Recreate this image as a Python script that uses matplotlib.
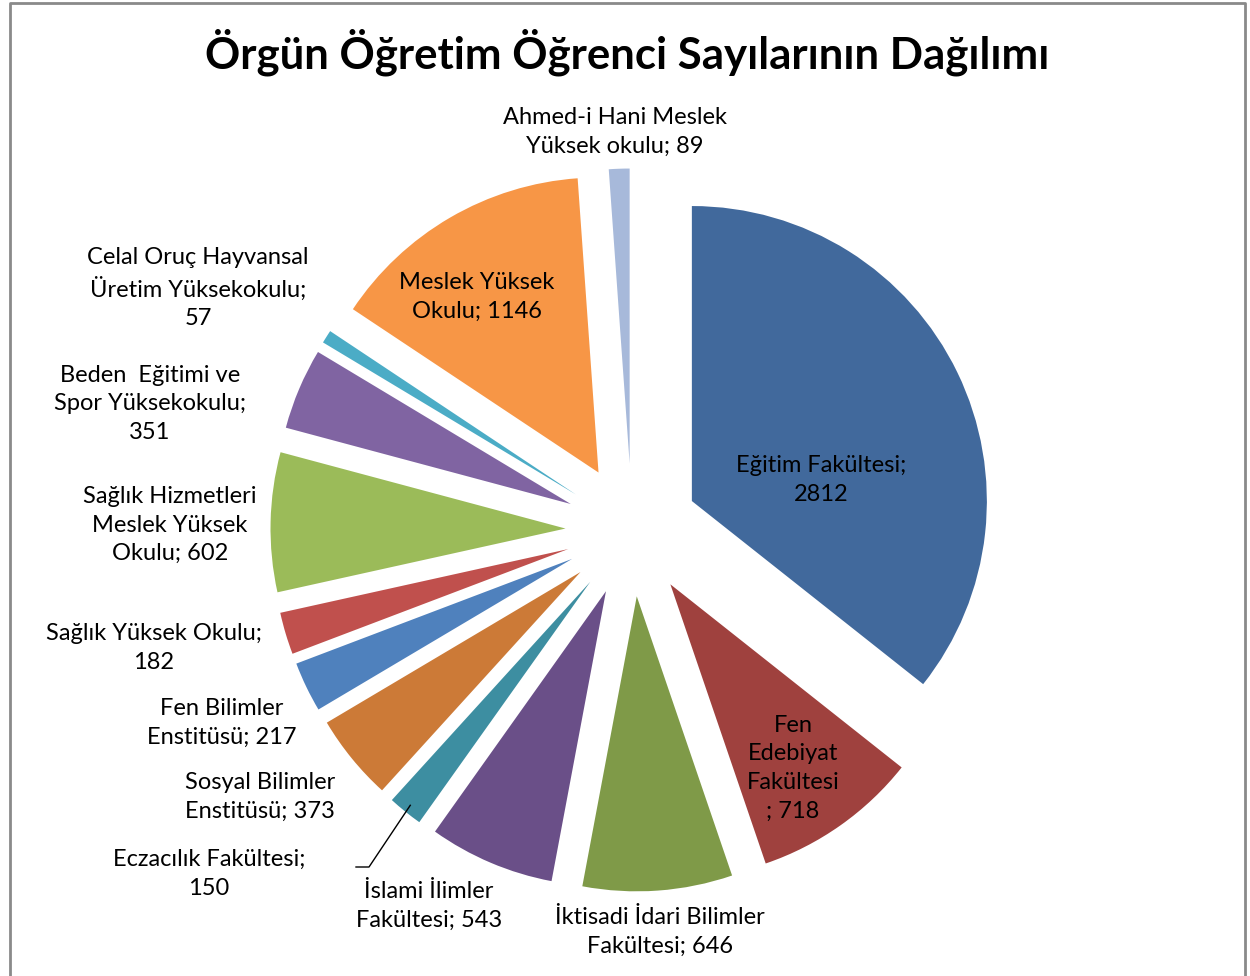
import matplotlib
matplotlib.use("Agg")
import matplotlib.pyplot as plt
import numpy as np

plt.rcParams['font.family'] = ['Lato', 'DejaVu Sans']

# data (clockwise from 12 o'clock)
birimler = ["Eğitim Fakültesi", "Fen Edebiyat Fakültesi", "İktisadi İdari Bilimler Fakültesi",
            "İslami İlimler Fakültesi", "Eczacılık Fakültesi", "Sosyal Bilimler Enstitüsü",
            "Fen Bilimler Enstitüsü", "Sağlık Yüksek Okulu", "Sağlık Hizmetleri Meslek Yüksek Okulu",
            "Beden Eğitimi ve Spor Yüksekokulu", "Celal Oruç Hayvansal Üretim Yüksekokulu",
            "Meslek Yüksek Okulu", "Ahmed-i Hani Meslek Yüksek okulu"]
ogrenci = [2812, 718, 646, 543, 150, 373, 217, 182, 602, 351, 57, 1146, 89]

# label text as excel wrapped it
etiketler = ["Eğitim Fakültesi;\n2812", "Fen\nEdebiyat\nFakültesi\n; 718",
             "İktisadi İdari Bilimler\nFakültesi; 646", "İslami İlimler\nFakültesi; 543",
             "Eczacılık Fakültesi;\n150", "Sosyal Bilimler\nEnstitüsü; 373",
             "Fen Bilimler\nEnstitüsü; 217", "Sağlık Yüksek Okulu;\n182",
             "Sağlık Hizmetleri\nMeslek Yüksek\nOkulu; 602", "Beden  Eğitimi ve\nSpor Yüksekokulu;\n351",
             "Celal Oruç Hayvansal\nÜretim Yüksekokulu;\n57", "Meslek Yüksek\nOkulu; 1146",
             "Ahmed-i Hani Meslek\nYüksek okulu; 89"]

renkler = ["#41699c", "#9f413e", "#7f9a48", "#6a4f88", "#3d8ea1", "#cc7a37", "#4f81bd",
           "#c0504d", "#9bbb59", "#8064a2", "#4bacc6", "#f79646", "#a7b9da"]

# label centres in pixels (x, y from top)
etiket_yer = [(821, 480), (793, 768), (660, 932), (429, 906), (209, 874), (260, 797),
              (222, 723), (154, 648), (170, 525), (150, 404), (198, 288), (477, 297),
              (615, 132)]

W, H = 1250, 976
fig = plt.figure(figsize=(W / 100, H / 100), dpi=100)
ax = fig.add_axes([0, 0, 1, 1])

merkez = (632, H - 530)
yaricap = 295
patlama = 66.5   # pie's explode is in data units here (px)

wedges, _ = ax.pie(ogrenci, colors=renkler, startangle=90, counterclock=False,
                   explode=[patlama] * len(ogrenci), center=merkez, radius=yaricap,
                   wedgeprops=dict(linewidth=0))
# pie resets the limits, so set them afterwards
ax.set_xlim(0, W)
ax.set_ylim(0, H)
ax.set_aspect('equal')
ax.axis('off')

for txt, (x, y) in zip(etiketler, etiket_yer):
    ax.text(x, H - y, txt, ha='center', va='center', fontsize=17,
            color='black', linespacing=1.45)

# leader line for Eczacilik
w = wedges[4]
aci = np.deg2rad((w.theta1 + w.theta2) / 2)
d = yaricap + patlama - 8
p0 = (merkez[0] + d * np.cos(aci), merkez[1] + d * np.sin(aci))
ax.plot([p0[0], 369, 356], [p0[1], H - 867, H - 867], color='black', lw=1)

fig.text(627 / W, 1 - 52 / H, "Örgün Öğretim Öğrenci Sayılarının Dağılımı",
         ha='center', va='center', fontsize=31.5, fontweight='bold')

# chart border
ax.plot([10, 10, 1245, 1245], [-5, H - 3, H - 3, -5], color='#8a8a8a', lw=2,
        clip_on=False)

fig.savefig("out.png", dpi=100)
